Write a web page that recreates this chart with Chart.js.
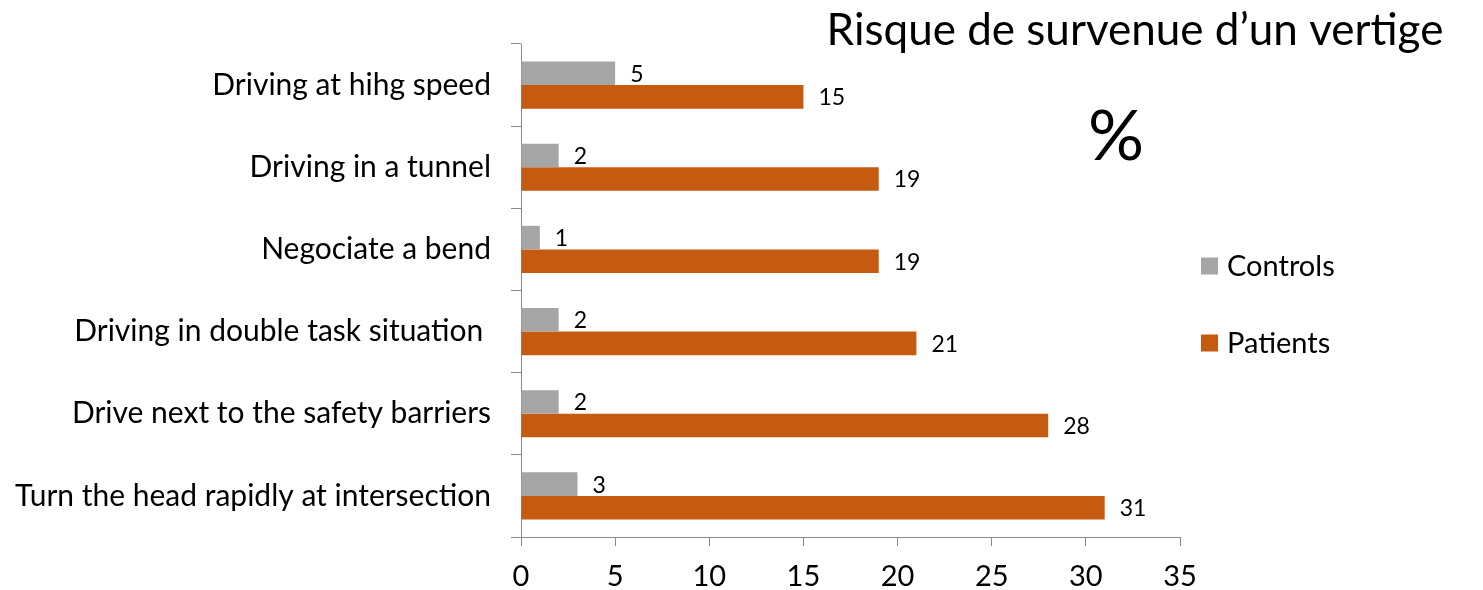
<!DOCTYPE html>
<html>
<head>
<meta charset="utf-8">
<script src="https://cdn.jsdelivr.net/npm/chart.js@4/dist/chart.umd.min.js"></script>
<style>
html,body{margin:0;padding:0;background:#fff;}
#wrap{position:relative;width:1483px;height:590px;}
</style>
</head>
<body>
<div id="wrap"><canvas id="c" width="1483" height="590"></canvas></div>
<script>
const categories = [
  "Driving at hihg speed",
  "Driving in a tunnel",
  "Negociate a bend",
  "Driving in double task situation ",
  "Drive next to the safety barriers",
  "Turn the head rapidly at intersection"
];
const controls = [5, 2, 1, 2, 2, 3];
const patients = [15, 19, 19, 21, 28, 31];
const xTicks = [0, 5, 10, 15, 20, 25, 30, 35];
const titleText = "Risque de survenue d\u2019un vertige";
const unitText = "%";

const FONT = "Lato";
const AXIS = "#898989";

const overlay = {
  id: "overlay",
  afterDatasetsDraw(chart) {
    const ctx = chart.ctx;
    ctx.save();
    ctx.fillStyle = "#000";
    ctx.textBaseline = "middle";
    ctx.textAlign = "left";
    ctx.font = "23px " + FONT;
    chart.data.datasets.forEach((ds, di) => {
      const meta = chart.getDatasetMeta(di);
      meta.data.forEach((bar, i) => {
        ctx.fillText(String(ds.data[i]), bar.x + 15, bar.y + 1);
      });
    });
    // title
    ctx.textAlign = "center";
    ctx.font = "44px " + FONT;
    ctx.fillText(titleText, 1135, 31);
    ctx.font = "70px " + FONT;
    ctx.fillText(unitText, 1116, 137);
    // legend
    ctx.textAlign = "left";
    ctx.font = "29px " + FONT;
    const ly = [266, 343];
    chart.data.datasets.forEach((ds, di) => {
      ctx.fillStyle = ds.backgroundColor;
      ctx.fillRect(1201, ly[di] - 8.5, 17, 17);
      ctx.fillStyle = "#000";
      ctx.fillText(ds.label, 1227, ly[di] + 1);
    });
    ctx.restore();
  }
};

new Chart(document.getElementById("c"), {
  type: "bar",
  data: {
    labels: categories,
    datasets: [
      { label: "Controls", data: controls, backgroundColor: "#A5A5A5", categoryPercentage: 0.575, barPercentage: 1 },
      { label: "Patients", data: patients, backgroundColor: "#C55A11", categoryPercentage: 0.575, barPercentage: 1 }
    ]
  },
  options: {
    indexAxis: "y",
    responsive: false,
    animation: false,
    devicePixelRatio: 1,
    layout: { padding: { left: 0, right: 303, top: 44, bottom: 0 } },
    plugins: { legend: { display: false }, tooltip: { enabled: false }, title: { display: false } },
    scales: {
      x: {
        min: 0, max: 35,
        afterBuildTicks(scale) { scale.ticks = xTicks.map(v => ({ value: v })); },
        grid: { drawOnChartArea: false, drawTicks: true, tickLength: 9, color: AXIS, lineWidth: 1 },
        border: { color: AXIS, width: 1 },
        ticks: { color: "#000", font: { family: FONT, size: 29 }, padding: 13 },
        afterFit(scale) { scale.height = 53; }
      },
      y: {
        grid: { drawOnChartArea: false, drawTicks: true, tickLength: 10, color: AXIS, offset: true },
        border: { color: AXIS, width: 1 },
        ticks: { color: "#000", font: { family: FONT, size: 30 }, padding: 20 },
        afterFit(scale) { scale.width = 521; }
      }
    }
  },
  plugins: [overlay]
});
</script>
</body>
</html>
